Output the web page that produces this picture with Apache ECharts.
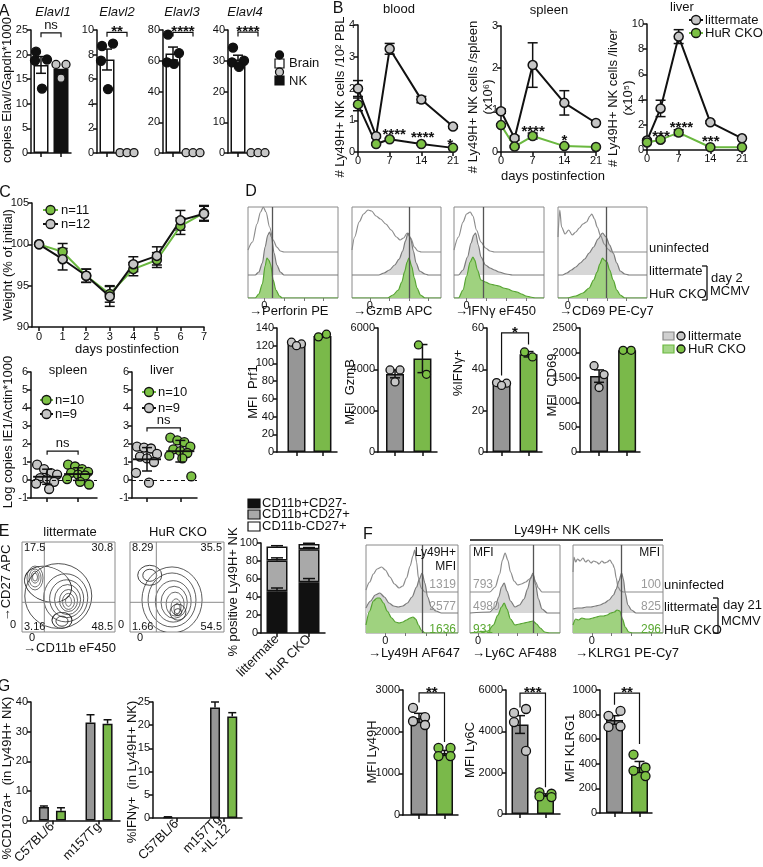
<!DOCTYPE html>
<html>
<head>
<meta charset="utf-8">
<title>Figure</title>
<script src="https://cdn.jsdelivr.net/npm/echarts@6/dist/echarts.min.js"></script>
<style>
html,body{margin:0;padding:0;background:#ffffff;}
#chart{width:763px;height:867px;}
</style>
</head>
<body>
<div id="chart"></div>
<script>
// ===================== DATA =====================
// Panel A
const elavlGenes = ['Elavl1', 'Elavl2', 'Elavl3', 'Elavl4'];
const elavlYMax = [25, 10, 80, 40];
const elavlYStep = [5, 2, 20, 10];
const elavlBrainMean = [17.9, 7.6, 64.7, 30.4];
const elavlBrainSem = [1.7, 0.85, 4.2, 1.4];
const elavlBrainPts = [[20.6, 19.0, 18.8, 13.1], [8.7, 8.9, 7.5, 5.2], [77, 65, 59, 58], [34.3, 30.0, 29.5, 28.0]];
const elavlNkMean = [17.1, 0.03, 0.2, 0.1];
const elavlNkPts = [[18.0, 18.0, 15.2], [0.03, 0.03, 0.03], [0.2, 0.2, 0.2], [0.1, 0.1, 0.1]];
const elavlSig = ['ns', '**', '****', '****'];
const elavlSigY = [24.4, 9.8, 78.5, 39.3];

// Panel B
const bDaysBlood = [0, 4, 7, 14, 21];
const bDaysOrgan = [0, 3, 7, 14, 21];
const bloodLit = [2.0, 0.5, 3.25, 1.65, 0.8];
const bloodLitErr = [0.25, 0.05, 0.17, 0.1, 0.04];
const bloodCko = [1.5, 0.25, 0.4, 0.25, 0.13];
const bloodCkoErr = [0.2, 0.03, 0.03, 0.03, 0.02];
const spleenLit = [0.97, 0.33, 2.07, 1.17, 0.69];
const spleenLitErr = [0.05, 0.05, 0.53, 0.29, 0.03];
const spleenCko = [0.64, 0.13, 0.38, 0.14, 0.12];
const spleenCkoErr = [0.03, 0.02, 0.07, 0.02, 0.02];
const liverLit = [0.75, 3.3, 9.0, 2.2, 0.93];
const liverLitErr = [0.1, 0.65, 0.55, 0.1, 0.05];
const liverCko = [0.6, 0.82, 1.38, 0.22, 0.22];
const liverCkoErr = [0.05, 0.1, 0.23, 0.03, 0.03];
const bloodStars = [[8.0, 0.66], [14.3, 0.58], [20.4, 0.36]];
const bloodStarText = ['****', '****', '*'];
const spleenStars = [[7.1, 0.57], [14.0, 0.36]];
const spleenStarText = ['****', '*'];
const liverStars = [[3.1, 1.35], [7.6, 2.1], [14.1, 0.95]];
const liverStarText = ['***', '****', '***'];

// Panel C - weight
const weightDays = [0, 1, 2, 3, 4, 5, 6, 7];
const weightLit = [100, 98.2, 96.2, 93.7, 97.6, 98.6, 102.9, 103.7];
const weightLitErr = [0, 1.3, 0.8, 1.2, 0.9, 1.1, 1.2, 0.9];
const weightCko = [100, 99.1, 96.2, 94.0, 97.0, 98.1, 102.2, 103.8];
const weightCkoErr = [0, 1.0, 0.8, 1.0, 0.8, 0.9, 1.0, 0.9];
// Panel C - IE1 copies
const ie1SpleenLit = [0.85, 0.6, 0.38, 0.3, 0.1, 0.05, -0.1, -0.2, -0.5];
const ie1SpleenCko = [0.85, 0.75, 0.6, 0.45, 0.4, 0.3, 0.25, 0.05, -0.1, -0.25];
const ie1LiverLit = [1.85, 1.8, 1.75, 1.45, 1.3, 1.2, 1.0, 0.4, -0.15];
const ie1LiverCko = [2.35, 2.2, 2.1, 1.85, 1.7, 1.6, 1.5, 1.35, 1.2, 0.2];
const ie1MeanSd = { spleenLit: [0.18, 0.42], spleenCko: [0.33, 0.35], liverLit: [1.15, 0.65], liverCko: [1.6, 0.6] };
const ie1SigY = [1.6, 2.9];

// Panel D - histograms [x %, height]
const dHistLabels = ['Perforin PE', 'GzmB APC', 'IFNγ eF450', 'CD69 PE-Cy7'];
const dUninf = [
  [[0,2],[5,10],[10,28],[14,40],[17,45],[20,40],[24,25],[28,12],[32,5],[36,1],[40,0],[100,0]],
  [[0,2],[3,15],[8,30],[13,38],[18,42],[22,41],[27,36],[32,33],[38,28],[44,22],[50,15],[54,12],[58,14],[62,19],[66,14],[70,5],[74,1],[78,0],[100,0]],
  [[0,2],[5,15],[10,30],[14,38],[18,40],[21,36],[25,22],[30,10],[35,4],[40,1],[45,0],[100,0]],
  [[0,15],[2,42],[4,25],[8,18],[12,22],[16,17],[20,20],[24,24],[28,28],[32,30],[36,36],[38,38],[41,33],[44,25],[48,16],[52,8],[56,3],[60,0],[100,0]]
];
const dLit = [
  [[0,0],[8,0],[12,3],[16,12],[19,28],[22,40],[24,43],[26,38],[29,22],[32,10],[36,3],[40,0],[100,0]],
  [[0,0],[30,0],[36,2],[42,5],[48,10],[53,16],[57,24],[60,34],[63,42],[66,36],[69,24],[72,12],[76,4],[82,1],[86,0],[100,0]],
  [[0,0],[5,0],[10,5],[15,18],[19,32],[22,40],[24,42],[27,30],[30,18],[35,10],[40,7],[45,5],[50,3],[58,1],[65,0],[100,0]],
  [[0,0],[5,0],[10,2],[15,5],[20,8],[25,12],[30,16],[35,22],[40,28],[45,36],[50,42],[54,38],[58,30],[62,22],[66,12],[70,4],[75,1],[80,0],[100,0]]
];
const dCko = [
  [[0,0],[8,0],[12,4],[16,14],[19,32],[21,40],[23,38],[25,34],[28,18],[31,8],[35,2],[38,0],[100,0]],
  [[0,0],[40,0],[46,3],[52,8],[56,16],[59,26],[62,36],[64,40],[67,32],[70,20],[73,10],[77,3],[82,0],[100,0]],
  [[0,0],[5,0],[10,8],[14,22],[18,36],[21,41],[23,38],[26,28],[30,18],[35,16],[40,14],[45,13],[50,12],[55,10],[60,9],[65,7],[70,6],[75,4],[80,2],[85,1],[90,0],[100,0]],
  [[0,0],[10,0],[20,2],[28,5],[35,10],[40,18],[44,26],[47,34],[50,40],[52,38],[55,36],[58,28],[62,18],[66,8],[70,3],[75,0],[100,0]]
];
const dMfiLine = [27, 64, 32, 54];
const dZeroTick = [18, 20, 14, 11];
// Panel D - bars
const dBarNames = ['MFI  Prf1', 'MFI  GzmB', '%IFNγ+', 'MFI  CD69'];
const dYMax = [140, 6000, 60, 2500];
const dYStep = [20, 2000, 20, 500];
const dLitMean = [122, 3780, 33, 1530];
const dLitSem = [1.2, 190, 0.5, 125];
const dCkoMean = [131, 4520, 47.3, 2050];
const dCkoSem = [1.5, 680, 1.3, 5];
const dLitPts = [[124, 122, 120], [3970, 3970, 3390], [33.6, 33.3, 32.2], [1740, 1560, 1300]];
const dCkoPts = [[130, 133], [5180, 3760], [48.4, 46.0], [2050, 2050]];
const dSigIfn = [0, 1, 57.6, 37, 52];

// Panel E - contour ellipses [cx %, cy %, rx %, ry %, rotation deg]
const eContourLit = [
  [39,40,36,36,0],[28,53,26,19,-20],
  [14,60,8.6,13.3,0],[14,60,6.5,10,0],[14,61,4.3,6.7,0],[14,61,2.7,4.4,0],
  [47,38,23.7,26.7,0],[48,37,18.3,21,0],[49,36,14,16.7,0],[50,35,9.7,12.2,0],[50,34,6.5,8.9,0],[50,34,3.2,5.6,0],
  [43,13,10.8,8.9,0],[43,12,6.5,5.6,0]
];
const eContourCko = [
  [44.7,35.6,32,36.7,0],[44.7,35.6,25.5,30,0],[46,34,19,23,0],[47,33,14,17.8,0],[48,31,9.6,13.3,0],[49,28,5.3,8.9,0],[50,26,3.2,5.6,0],
  [21,63,12.8,11.1,0],[21,63,7.4,6.7,0],
  [51,22,8.5,8.9,0],[51,22,4,4,0]
];
const eGateLit = [24, 33];
const eGateCko = [28, 33];
const eQuadLit = ['17.5', '30.8', '3.16', '48.5'];
const eQuadCko = ['8.29', '35.5', '1.66', '54.5'];
const eGroups = ['littermate', 'HuR CKO'];
const eCd27neg = [46.5, 56.5];
const eCd27negSem = [3.5, 4.0];
const eDp = [34.0, 36.5];
const eDpSem = [3.0, 2.0];
const eCd11bneg = [15.5, 6.0];
const eCd11bnegSem = [1.0, 0.7];
const eLegend = ['CD11b+CD27-', 'CD11b+CD27+', 'CD11b-CD27+'];

// Panel F - histograms
const fHistLabels = ['Ly49H AF647', 'Ly6C AF488', 'KLRG1 PE-Cy7'];
const fUninf = [
  [[0,2],[4,10],[8,18],[12,23],[17,25],[21,22],[26,15],[31,8],[36,4],[40,6],[44,14],[48,26],[51,36],[53,42],[55,30],[57,14],[60,4],[64,0],[100,0]],
  [[0,0],[22,0],[28,5],[33,18],[36,32],[39,39],[42,32],[45,20],[49,11],[53,7],[57,8],[62,10],[66,13],[70,17],[73,10],[76,4],[80,0],[100,0]],
  [[0,20],[1,35],[3,30],[5,33],[8,31],[11,34],[14,30],[17,32],[20,29],[23,31],[26,30],[29,28],[32,31],[35,29],[38,30],[41,32],[44,28],[46,24],[48,14],[50,5],[53,1],[56,0],[100,0]]
];
const fLit = [
  [[0,5],[5,12],[10,18],[15,20],[20,16],[25,10],[30,7],[35,6],[40,7],[45,10],[50,16],[55,26],[58,34],[61,40],[64,30],[67,16],[71,6],[76,2],[82,0],[100,0]],
  [[0,0],[22,1],[28,6],[32,16],[35,26],[38,30],[41,22],[45,12],[50,6],[55,8],[60,14],[64,24],[67,34],[70,40],[73,28],[76,14],[80,4],[86,0],[100,0]],
  [[0,4],[5,5],[10,5],[15,6],[20,6],[25,7],[30,8],[35,10],[40,13],[45,18],[48,24],[51,32],[54,40],[56,34],[58,20],[61,8],[65,3],[70,0],[100,0]]
];
const fCko = [
  [[0,8],[4,22],[8,32],[12,35],[15,35],[19,30],[23,22],[28,15],[32,11],[36,10],[40,11],[44,13],[48,15],[51,16],[54,14],[57,8],[60,3],[64,0],[100,0]],
  [[0,0],[20,2],[26,8],[31,18],[35,26],[38,30],[41,24],[45,14],[50,8],[55,9],[60,10],[65,11],[70,12],[74,9],[78,5],[83,1],[88,0],[100,0]],
  [[0,8],[3,14],[6,13],[10,15],[14,14],[18,14],[22,15],[26,16],[30,17],[34,17],[38,18],[42,20],[46,21],[49,23],[52,22],[55,14],[58,6],[62,1],[66,0],[100,0]]
];
const fMfiLine = [61, 70, 54];
const fZeroTick = [21, 9, 21];
const fMfiUninf = ['1319', '793', '100'];
const fMfiLit = ['2577', '4980', '825'];
const fMfiCko = ['1636', '931', '296'];
// Panel F - bars
const fBarNames = ['MFI Ly49H', 'MFI Ly6C', 'MFI KLRG1'];
const fYMax = [3000, 6000, 1000];
const fYStep = [1000, 2000, 200];
const fLitMean = [2330, 4330, 756];
const fLitSem = [110, 430, 35];
const fCkoMean = [1490, 920, 374];
const fCkoSem = [60, 55, 45];
const fLitPts = [[2570, 2350, 2250, 2160], [4890, 5080, 4450, 3050], [790, 830, 700, 705]];
const fCkoPts = [[1610, 1610, 1415, 1415], [1050, 980, 850, 820], [475, 370, 345, 300]];
const fSig = ['**', '***', '**'];
const fSigPos = [[0, 1, 2930, 2700, 1750], [0, 1, 5850, 5150, 1300], [0, 1, 975, 880, 560]];

// Panel G
const gCats1 = ['C57BL/6', 'm157Tg'];
const gCats2 = ['C57BL/6', 'm157Tg\n+IL-12'];
const gCd107Lit = [4.6, 33.1];
const gCd107LitSem = [0.3, 2.6];
const gCd107Cko = [3.3, 32.7];
const gCd107CkoSem = [1.0, 1.3];
const gIfnLit = [0.2, 23.8];
const gIfnLitSem = [0.05, 1.2];
const gIfnCko = [0, 21.9];
const gIfnCkoSem = [0, 0.8];

// ===================== STYLE / HELPERS =====================
const FONT = '"Liberation Sans", Arial, Helvetica, sans-serif';
const AX = { color: '#111', width: 1.5 };
const GREY_PT = '#c6c6c6', GREEN_PT = '#7cc144', GREEN_LINE = '#6ab83f';
const GREY_BAR = '#969696', GREEN_BAR = '#7ab94a';
const JIT = { a4: [-5, 6, -6, 1], d3: [-5, 5, 0], d2: [-4, 4], f4: [-6, 6, -6, 6], w: [-10, -3, 4, 10, -7, 0, 7, -11, 2, 11] };
const plainNum = function (v) { return String(v); };

const grids = [], xAxes = [], yAxes = [], series = [], graphics = [];
function addGrid(rect, xa, ya) {
  const i = grids.length;
  grids.push(Object.assign({ containLabel: false }, rect));
  xa.gridIndex = i; ya.gridIndex = i;
  xAxes.push(xa); yAxes.push(ya);
  return i;
}
function xVal(min, max, ticks, labels, o) {
  o = o || {};
  const has = ticks && ticks.length > 0;
  return {
    type: 'value', min: min, max: max, splitLine: { show: false },
    axisLine: { show: o.line !== false, onZero: false, lineStyle: AX },
    axisTick: { show: has, customValues: ticks, length: o.tickLen || 4, lineStyle: o.tickStyle || AX },
    axisLabel: {
      show: !!labels && has, customValues: ticks, rotate: o.rotate || 0, fontSize: o.fontSize || 11, color: '#111',
      margin: o.margin != null ? o.margin : 3, fontFamily: FONT, lineHeight: 13,
      formatter: function (v) { if (!labels) return ''; for (let i = 0; i < ticks.length; i++) { if (Math.abs(ticks[i] - v) < 1e-6) return labels[i]; } return ''; }
    }
  };
}
function xInt(min, max, interval) {
  return { type: 'value', min: min, max: max, interval: interval, splitLine: { show: false },
    axisLine: { show: true, onZero: false, lineStyle: AX }, axisTick: { show: true, length: 4, lineStyle: AX },
    axisLabel: { fontSize: 11, color: '#111', margin: 3, fontFamily: FONT, formatter: plainNum } };
}
function yVal(min, max, interval, o) {
  o = o || {};
  return { type: 'value', min: min, max: max, interval: interval, splitLine: { show: false },
    axisLine: { show: o.line !== false, onZero: false, lineStyle: AX },
    axisTick: { show: o.ticks !== false, length: 4, lineStyle: AX },
    axisLabel: { show: o.labels !== false, fontSize: 11, color: '#111', margin: 3, fontFamily: FONT, formatter: plainNum } };
}
function errSer(gi, items, o) {
  o = Object.assign({ cap: 4, lw: 1.5, down: true, mean: 0, color: '#111', z: 3 }, o || {});
  return {
    type: 'custom', xAxisIndex: gi, yAxisIndex: gi, silent: true, z: o.z, data: items,
    encode: { x: 0, y: [1, 2] },
    renderItem: function (p, api) {
      const x = api.value(0), lo = api.value(1), hi = api.value(2);
      const a = api.coord([x, lo]), b = api.coord([x, hi]);
      const st = { stroke: o.color, lineWidth: o.lw };
      const ch = [{ type: 'line', shape: { x1: a[0], y1: a[1], x2: b[0], y2: b[1] }, style: st }];
      if (o.cap > 0) {
        ch.push({ type: 'line', shape: { x1: b[0] - o.cap, y1: b[1], x2: b[0] + o.cap, y2: b[1] }, style: st });
        if (o.down) ch.push({ type: 'line', shape: { x1: a[0] - o.cap, y1: a[1], x2: a[0] + o.cap, y2: a[1] }, style: st });
      }
      if (o.mean > 0) {
        const m = api.coord([x, api.value(3)]);
        ch.push({ type: 'line', shape: { x1: m[0] - o.mean, y1: m[1], x2: m[0] + o.mean, y2: m[1] }, style: { stroke: o.color, lineWidth: o.lw + 0.4 } });
      }
      return { type: 'group', children: ch };
    }
  };
}
function ptsSer(gi, x, vals, fill, size, offs) {
  return { type: 'scatter', xAxisIndex: gi, yAxisIndex: gi, symbol: 'circle', symbolSize: size, z: 4, silent: true,
    itemStyle: { color: fill, borderColor: '#111', borderWidth: 1.3, opacity: 1 },
    data: vals.map(function (v, i) { return { value: [x, v], symbolOffset: [offs[i % offs.length], 0] }; }) };
}
function bracketSer(gi, items, labels) {
  return {
    type: 'custom', xAxisIndex: gi, yAxisIndex: gi, silent: true, z: 5, data: items,
    encode: { x: [0, 1], y: [2, 3, 4] },
    renderItem: function (p, api) {
      const x1 = api.value(0), x2 = api.value(1), yt = api.value(2), yl = api.value(3), yr = api.value(4);
      const a = api.coord([x1, yl]), b = api.coord([x1, yt]), c = api.coord([x2, yt]), d = api.coord([x2, yr]);
      const lab = labels[p.dataIndex];
      const star = lab.indexOf('*') >= 0;
      return { type: 'group', children: [
        { type: 'polyline', shape: { points: [a, b, c, d] }, style: { stroke: '#111', lineWidth: 1.2, fill: 'none' } },
        { type: 'text', x: (b[0] + c[0]) / 2, y: b[1] + (star ? 7 : -1),
          style: { text: lab, textAlign: 'center', textVerticalAlign: 'bottom', align: 'center', verticalAlign: 'bottom', font: (star ? 'bold 15px ' : '13px ') + FONT, fill: '#111' } }
      ] };
    }
  };
}
function starSer(gi, items, labels) {
  return {
    type: 'custom', xAxisIndex: gi, yAxisIndex: gi, silent: true, z: 6, data: items,
    renderItem: function (p, api) {
      const c = api.coord([api.value(0), api.value(1)]);
      return { type: 'text', x: c[0], y: c[1] + 4,
        style: { text: labels[p.dataIndex], textAlign: 'center', textVerticalAlign: 'middle', align: 'center', verticalAlign: 'middle', font: 'bold 15px ' + FONT, fill: '#111' } };
    }
  };
}
function histSer(gi, pts, base, line, fill, mfi) {
  const s = { type: 'line', xAxisIndex: gi, yAxisIndex: gi, silent: true, symbol: 'none', smooth: 0.3, smoothMonotone: 'x',
    data: pts.map(function (p) { return [p[0], base + p[1]]; }), lineStyle: { color: line, width: 1.2 }, z: 2 };
  if (fill) s.areaStyle = { color: fill, opacity: 1, origin: base };
  if (mfi != null) s.markLine = { silent: true, symbol: 'none', label: { show: false }, lineStyle: { color: '#555', width: 1.3, type: 'solid' }, data: [{ xAxis: mfi }] };
  return s;
}
function ellSer(gi, ells) {
  return {
    type: 'custom', xAxisIndex: gi, yAxisIndex: gi, silent: true, clip: true, data: ells,
    renderItem: function (p, api) {
      const c = api.coord([api.value(0), api.value(1)]);
      const s = api.size([api.value(2), api.value(3)]);
      return { type: 'circle', x: c[0], y: c[1], rotation: (api.value(4) || 0) * Math.PI / 180, scaleX: s[0] / s[1],
        shape: { cx: 0, cy: 0, r: s[1] }, style: { fill: 'none', stroke: '#2a2a2a', lineWidth: 0.8, strokeNoScale: true } };
    }
  };
}
function T(x, y, text, o) {
  o = o || {};
  const size = o.size || 13;
  graphics.push({ type: 'text', x: x, y: y, rotation: o.rot || 0, z: 50, silent: true,
    style: { text: text, fill: o.color || '#111', font: (o.italic ? 'italic ' : '') + (o.bold ? 'bold ' : '') + size + 'px ' + FONT,
      textAlign: o.align || 'left', textVerticalAlign: o.va || 'middle', align: o.align || 'left', verticalAlign: o.va || 'middle',
      lineHeight: o.lh || Math.round(size * 1.15) } });
}
function RT(x, y, text, o) { T(x, y, text, Object.assign({ rot: Math.PI / 2, align: 'center', va: 'middle' }, o || {})); }
function L(x1, y1, x2, y2, c, w) { graphics.push({ type: 'line', silent: true, z: 50, shape: { x1: x1, y1: y1, x2: x2, y2: y2 }, style: { stroke: c || '#111', lineWidth: w || 1.5 } }); }
function R(x, y, w, h, fill, stroke) { graphics.push({ type: 'rect', silent: true, z: 50, shape: { x: x, y: y, width: w, height: h }, style: { fill: fill, stroke: stroke || '#111', lineWidth: 1.2 } }); }
function C(x, y, r, fill, stroke) { graphics.push({ type: 'circle', silent: true, z: 51, shape: { cx: x, cy: y, r: r }, style: { fill: fill, stroke: stroke || '#111', lineWidth: 1.3 } }); }
function barItem(x, v, color) { return { value: [x, v], itemStyle: { color: color, borderColor: '#111', borderWidth: 1.5 } }; }

// ===================== PANEL A =====================
const A_LEFT = [31, 97, 163, 228];
const A_TITLE_X = [53, 117, 182, 245];
elavlGenes.forEach(function (gene, k) {
  const gi = addGrid({ left: A_LEFT[k], top: 30, width: 40, height: 123 }, xVal(-0.5, 1.5, [0, 1], null), yVal(0, elavlYMax[k], elavlYStep[k]));
  series.push({ type: 'bar', xAxisIndex: gi, yAxisIndex: gi, barWidth: 15, silent: true,
    data: [barItem(0, elavlBrainMean[k], '#ffffff'), barItem(1, elavlNkMean[k], '#111111')] });
  series.push(errSer(gi, [[0, elavlBrainMean[k] - elavlBrainSem[k], elavlBrainMean[k] + elavlBrainSem[k]]], { cap: 5 }));
  series.push(ptsSer(gi, 0, elavlBrainPts[k], '#111', 9, JIT.a4));
  series.push(ptsSer(gi, 1, elavlNkPts[k], GREY_PT, 8, k === 0 ? [-5, 5, 0] : [-7, 0, 7]));
  const y = elavlSigY[k], leg = elavlYMax[k] * 0.035;
  series.push(bracketSer(gi, [[0, 1, y, y - leg, y - leg]], [elavlSig[k]]));
  T(A_TITLE_X[k], 12, gene, { italic: true, align: 'center' });
});
T(4, 12, 'A', { size: 16, align: 'center' });
RT(7, 90, 'copies Elavl/Gapdh*1000');
R(275, 59, 9, 9, '#ffffff'); C(279.5, 55, 4, '#111'); T(289, 63, 'Brain');
R(275, 76, 9, 9, '#111111'); C(279.5, 72, 4, GREY_PT); T(289, 81, 'NK');

// ===================== PANEL B =====================
const bPlots = [
  { rect: { left: 358, top: 25, width: 95, height: 127 }, ymax: 4, step: 1, days: bDaysBlood, lit: bloodLit, litE: bloodLitErr, cko: bloodCko, ckoE: bloodCkoErr, ckoLine: '#111', stars: bloodStars, starText: bloodStarText },
  { rect: { left: 501, top: 26, width: 95, height: 126 }, ymax: 3, step: 1, days: bDaysOrgan, lit: spleenLit, litE: spleenLitErr, cko: spleenCko, ckoE: spleenCkoErr, ckoLine: GREEN_LINE, stars: spleenStars, starText: spleenStarText },
  { rect: { left: 647, top: 24, width: 95, height: 126 }, ymax: 10, step: 2, days: bDaysOrgan, lit: liverLit, litE: liverLitErr, cko: liverCko, ckoE: liverCkoErr, ckoLine: GREEN_LINE, stars: liverStars, starText: liverStarText }
];
bPlots.forEach(function (bp) {
  const gi = addGrid(bp.rect, xInt(0, 21, 7), yVal(0, bp.ymax, bp.step));
  const errs = [];
  bp.days.forEach(function (d, i) {
    errs.push([d, bp.lit[i] - bp.litE[i], bp.lit[i] + bp.litE[i]]);
    errs.push([d, bp.cko[i] - bp.ckoE[i], bp.cko[i] + bp.ckoE[i]]);
  });
  series.push(errSer(gi, errs, { cap: 5 }));
  series.push({ type: 'line', xAxisIndex: gi, yAxisIndex: gi, silent: true, z: 3, symbol: 'circle', symbolSize: 9,
    data: bp.days.map(function (d, i) { return [d, bp.lit[i]]; }),
    lineStyle: { color: '#111', width: 2 }, itemStyle: { color: GREY_PT, borderColor: '#111', borderWidth: 1.5 } });
  series.push({ type: 'line', xAxisIndex: gi, yAxisIndex: gi, silent: true, z: 3, symbol: 'circle', symbolSize: 9,
    data: bp.days.map(function (d, i) { return [d, bp.cko[i]]; }),
    lineStyle: { color: bp.ckoLine, width: 2 }, itemStyle: { color: GREEN_PT, borderColor: '#1a1a1a', borderWidth: 1.5 } });
  series.push(starSer(gi, bp.stars, bp.starText));
});
T(338, 9, 'B', { size: 16, align: 'center' });
T(399, 9, 'blood', { align: 'center' });
T(549, 10, 'spleen', { align: 'center' });
T(682, 7, 'liver', { align: 'center' });
RT(340, 97, '# Ly49H+ NK cells /10² PBL');
RT(481, 97, '# Ly49H+ NK cells /spleen\n(x10⁶)', { lh: 15 });
RT(621, 98, '# Ly49H+ NK cells /liver\n(x10⁵)', { lh: 15 });
T(553, 176, 'days postinfection', { align: 'center' });
L(689, 20, 703, 20, '#111', 2); C(696, 20, 4.5, GREY_PT); T(705, 20, 'littermate');
L(689, 33, 703, 33, GREEN_LINE, 2); C(696, 33, 4.5, GREEN_PT); T(705, 33, 'HuR CKO');

// ===================== PANEL C =====================
(function () {
  const gi = addGrid({ left: 32, top: 203, width: 172, height: 124 }, xVal(-0.3, 7, weightDays, weightDays.map(String)), yVal(90, 105, 5));
  const errs = [];
  weightDays.forEach(function (d, i) {
    if (weightCkoErr[i] > 0) errs.push([d, weightCko[i] - weightCkoErr[i], weightCko[i] + weightCkoErr[i]]);
    if (weightLitErr[i] > 0) errs.push([d, weightLit[i] - weightLitErr[i], weightLit[i] + weightLitErr[i]]);
  });
  series.push(errSer(gi, errs, { cap: 5 }));
  series.push({ type: 'line', xAxisIndex: gi, yAxisIndex: gi, silent: true, z: 3, symbol: 'circle', symbolSize: 9,
    data: weightDays.map(function (d, i) { return [d, weightCko[i]]; }),
    lineStyle: { color: GREEN_LINE, width: 2 }, itemStyle: { color: GREEN_PT, borderColor: '#1a1a1a', borderWidth: 1.5 } });
  series.push({ type: 'line', xAxisIndex: gi, yAxisIndex: gi, silent: true, z: 3, symbol: 'circle', symbolSize: 9,
    data: weightDays.map(function (d, i) { return [d, weightLit[i]]; }),
    lineStyle: { color: '#111', width: 2 }, itemStyle: { color: GREY_PT, borderColor: '#111', borderWidth: 1.5 } });
})();
T(5, 193, 'C', { size: 16, align: 'center' });
RT(8, 265, 'Weight (% of initial)');
T(127, 349, 'days postinfection', { align: 'center' });
L(43, 210, 58, 210, GREEN_LINE, 2); C(50.5, 210, 4.5, GREEN_PT); T(61, 210, 'n=11');
L(43, 224, 58, 224, '#111', 2); C(50.5, 224, 4.5, GREY_PT); T(61, 224, 'n=12');

function ie1Panel(rect, xmin, xmax, lit, cko, litMS, ckoMS, sigY) {
  const gi = addGrid(rect, xVal(xmin, xmax, [0, 1], null), yVal(-1, 6, 1));
  const s1 = ptsSer(gi, 0, lit, GREY_PT, 9, JIT.w);
  s1.markLine = { silent: true, symbol: 'none', label: { show: false }, lineStyle: { color: '#111', width: 1.2, type: [4, 3] }, data: [{ yAxis: 0 }] };
  series.push(s1);
  series.push(ptsSer(gi, 1, cko, GREEN_PT, 9, JIT.w));
  series.push(errSer(gi, [[0, litMS[0] - litMS[1], litMS[0] + litMS[1], litMS[0]], [1, ckoMS[0] - ckoMS[1], ckoMS[0] + ckoMS[1], ckoMS[0]]], { cap: 5, mean: 14, z: 6 }));
  series.push(bracketSer(gi, [[0, 1, sigY, sigY - 0.2, sigY - 0.2]], ['ns']));
}
ie1Panel({ left: 31, top: 372, width: 66, height: 126 }, -0.52, 1.61, ie1SpleenLit, ie1SpleenCko, ie1MeanSd.spleenLit, ie1MeanSd.spleenCko, ie1SigY[0]);
ie1Panel({ left: 132, top: 372, width: 65, height: 126 }, -0.45, 1.5, ie1LiverLit, ie1LiverCko, ie1MeanSd.liverLit, ie1MeanSd.liverCko, ie1SigY[1]);
T(68, 370, 'spleen', { align: 'center' });
T(162, 370, 'liver', { align: 'center' });
L(40, 400, 53, 400, GREEN_LINE, 2); C(46.5, 400, 4.5, GREEN_PT); T(55, 400, 'n=10');
L(40, 414, 53, 414, '#111', 2); C(46.5, 414, 4.5, GREY_PT); T(55, 414, 'n=9');
L(142, 392, 156, 392, GREEN_LINE, 2); C(149, 392, 4.5, GREEN_PT); T(158, 392, 'n=10');
L(142, 408, 156, 408, '#111', 2); C(149, 408, 4.5, GREY_PT); T(158, 408, 'n=9');
RT(8, 432, 'Log copies IE1/Actin*1000');

// ===================== PANEL D =====================
const D_HIST = [{ left: 248, width: 90 }, { left: 352, width: 89 }, { left: 454, width: 90 }, { left: 558, width: 89 }];
const D_H = 91, D_ROW = 23;
D_HIST.forEach(function (b, k) {
  const z = dZeroTick[k];
  const ticks = [z, z + 22, z + 44, z + 66].filter(function (t) { return t < 98; });
  const labs = ticks.map(function (t, i) { return i === 0 ? '0' : ''; });
  const gi = addGrid({ left: b.left, top: 207, width: b.width, height: D_H, show: true, borderColor: '#8a8a8a', borderWidth: 1 },
    xVal(0, 100, ticks, labs, { line: false, tickLen: 3, tickStyle: { color: '#777', width: 1 }, margin: 1 }),
    yVal(0, D_H, D_H, { line: false, ticks: false, labels: false }));
  series.push(histSer(gi, dUninf[k], 2 * D_ROW, '#8c8c8c', null, null));
  series.push(histSer(gi, dLit[k], D_ROW, '#7a7a7a', '#d6d6d6', null));
  series.push(histSer(gi, dCko[k], 0, '#56a332', '#9fd27f', dMfiLine[k]));
  T(b.left + 1, 311, '→' + dHistLabels[k]);
});
const D_BAR = [{ left: 277, width: 60, min: -0.75, max: 1.56 }, { left: 378, width: 59, min: -0.62, max: 1.53 }, { left: 487, width: 55, min: -0.54, max: 1.5 }, { left: 580, width: 60, min: -0.68, max: 1.46 }];
D_BAR.forEach(function (b, k) {
  const gi = addGrid({ left: b.left, top: 328, width: b.width, height: 124 }, xVal(b.min, b.max, [0, 1], null), yVal(0, dYMax[k], dYStep[k]));
  series.push({ type: 'bar', xAxisIndex: gi, yAxisIndex: gi, barWidth: 18, silent: true,
    data: [barItem(0, dLitMean[k], GREY_BAR), barItem(1, dCkoMean[k], GREEN_BAR)] });
  series.push(errSer(gi, [[0, dLitMean[k] - dLitSem[k], dLitMean[k] + dLitSem[k]], [1, dCkoMean[k] - dCkoSem[k], dCkoMean[k] + dCkoSem[k]]], { cap: 5 }));
  series.push(ptsSer(gi, 0, dLitPts[k], GREY_PT, 8, JIT.d3));
  series.push(ptsSer(gi, 1, dCkoPts[k], GREEN_PT, 8, JIT.d2));
  if (k === 2) series.push(bracketSer(gi, [dSigIfn], ['*']));
});
T(251, 192, 'D', { size: 16, align: 'center' });
RT(253, 392, dBarNames[0]);
RT(350, 392, dBarNames[1]);
RT(458, 373, dBarNames[2]);
RT(552, 385, dBarNames[3]);
T(649, 248, 'uninfected'); T(649, 271, 'littermate'); T(649, 294, 'HuR CKO');
L(702, 266, 707, 266, '#111', 1.3); L(707, 266, 707, 300, '#111', 1.3); L(702, 300, 707, 300, '#111', 1.3);
T(711, 278, 'day 2'); T(710, 291, 'MCMV');
R(663, 332, 11, 8, '#d0d0d0', '#888'); C(681, 336, 4, GREY_PT); T(688, 336, 'littermate');
R(663, 345, 11, 8, '#a6d68a', '#6ab83f'); C(681, 349, 4, GREEN_PT); T(688, 349, 'HuR CKO');

// ===================== PANEL E =====================
function contourPanel(left, width, ells, gate, quad) {
  const gi = addGrid({ left: left, top: 542, width: width, height: 90, show: true, borderColor: '#8a8a8a', borderWidth: 1 },
    xVal(0, 100, [], null, { line: false }), yVal(0, 100, 100, { line: false, ticks: false, labels: false }));
  series.push(ellSer(gi, ells));
  const gs = { type: 'line', xAxisIndex: gi, yAxisIndex: gi, silent: true, symbol: 'none', lineStyle: { color: '#8a8a8a', width: 1 } };
  series.push(Object.assign({}, gs, { data: [[gate[0], 0], [gate[0], 100]] }));
  series.push(Object.assign({}, gs, { data: [[0, gate[1]], [100, gate[1]]] }));
  T(left + 2, 548, quad[0], { size: 11 });
  T(left + width - 2, 548, quad[1], { size: 11, align: 'right' });
  T(left + 2, 627, quad[2], { size: 11 });
  T(left + width - 2, 627, quad[3], { size: 11, align: 'right' });
  T(left + 10, 638, '0', { size: 11, align: 'center' });
  T(left - 9, 625, '0', { size: 11, align: 'center' });
}
contourPanel(22, 93, eContourLit, eGateLit, eQuadLit);
contourPanel(130, 94, eContourCko, eGateCko, eQuadCko);
T(4, 532, 'E', { size: 16, align: 'center' });
T(70, 532, 'littermate', { align: 'center' });
T(178, 532, 'HuR CKO', { align: 'center' });
RT(6, 583, '→CD27 APC');
T(23, 648, '→CD11b eF450');
(function () {
  const xa = { type: 'category', data: eGroups, boundaryGap: true,
    axisLine: { show: true, onZero: false, lineStyle: AX },
    axisTick: { show: true, alignWithLabel: true, length: 4, lineStyle: AX },
    axisLabel: { interval: 0, rotate: 45, fontSize: 13, color: '#111', margin: 4, fontFamily: FONT } };
  const gi = addGrid({ left: 261, top: 543, width: 64, height: 90 }, xa, yVal(0, 100, 20));
  const defs = [[eCd27neg, eCd27negSem, '#111111'], [eDp, eDpSem, '#a9a9a9'], [eCd11bneg, eCd11bnegSem, '#ffffff']];
  const cum = [0, 0];
  const errs = [];
  defs.forEach(function (d) {
    series.push({ type: 'bar', stack: 'ly', xAxisIndex: gi, yAxisIndex: gi, barWidth: 21, silent: true,
      itemStyle: { color: d[2], borderColor: '#111', borderWidth: 1.5 }, data: d[0].slice() });
    d[0].forEach(function (v, i) { cum[i] += v; errs.push([i, cum[i], cum[i] + d[1][i]]); });
  });
  series.push(errSer(gi, errs, { cap: 6, down: false, z: 6 }));
})();
R(248, 499, 12, 9, '#111111'); T(262, 503, eLegend[0]);
R(248, 510, 12, 9, '#a9a9a9'); T(262, 514, eLegend[1]);
R(248, 522, 12, 9, '#ffffff'); T(262, 526, eLegend[2]);
RT(233, 592, '% positive Ly49H+ NK');

// ===================== PANEL F =====================
const F_HIST = [{ left: 366, width: 92 }, { left: 470, width: 90 }, { left: 573, width: 90 }];
const F_H = 88;
const F_BASE = [0, 20, 41];
F_HIST.forEach(function (b, k) {
  const z = fZeroTick[k];
  const ticks = [z, z + 22, z + 44, z + 66].filter(function (t) { return t < 98; });
  const labs = ticks.map(function (t, i) { return i === 0 ? '0' : ''; });
  const gi = addGrid({ left: b.left, top: 545, width: b.width, height: F_H, show: true, borderColor: '#8a8a8a', borderWidth: 1 },
    xVal(0, 100, ticks, labs, { line: false, tickLen: 3, tickStyle: { color: '#777', width: 1 }, margin: 1 }),
    yVal(0, F_H, F_H, { line: false, ticks: false, labels: false }));
  series.push(histSer(gi, fUninf[k], F_BASE[2], '#8c8c8c', null, null));
  series.push(histSer(gi, fLit[k], F_BASE[1], '#7a7a7a', '#d6d6d6', null));
  series.push(histSer(gi, fCko[k], F_BASE[0], '#56a332', '#9fd27f', fMfiLine[k]));
  T(b.left + 2, 653, '→' + fHistLabels[k]);
  const right = k !== 1;
  const tx = right ? b.left + b.width - 2 : b.left + 3;
  const al = right ? 'right' : 'left';
  T(tx, 585, fMfiUninf[k], { color: '#9a9a9a', align: al, size: 12 });
  T(tx, 607, fMfiLit[k], { color: '#9a9a9a', align: al, size: 12 });
  T(tx, 630, fMfiCko[k], { color: '#5aa832', align: al, size: 12 });
});
T(456, 553, 'Ly49H+', { align: 'right', size: 12 });
T(456, 567, 'MFI', { align: 'right', size: 12 });
T(473, 553, 'MFI', { size: 12 });
T(660, 553, 'MFI', { align: 'right', size: 12 });
T(368, 535, 'F', { size: 16, align: 'center' });
T(562, 530, 'Ly49H+ NK cells', { align: 'center' });
L(470, 540, 663, 540, '#111', 1.5);
T(664, 585, 'uninfected'); T(664, 607, 'littermate'); T(664, 630, 'HuR CKO');
L(713, 598, 718, 598, '#111', 1.3); L(718, 598, 718, 633, '#111', 1.3); L(713, 633, 718, 633, '#111', 1.3);
T(723, 605, 'day 21'); T(721, 621, 'MCMV');
const F_BAR = [{ left: 403, width: 55, min: -0.63, max: 1.53, top: 690, h: 125 }, { left: 506, width: 54, min: -0.55, max: 1.57, top: 690, h: 124 }, { left: 600, width: 52, min: -0.58, max: 1.5, top: 690, h: 123 }];
F_BAR.forEach(function (b, k) {
  const gi = addGrid({ left: b.left, top: b.top, width: b.width, height: b.h }, xVal(b.min, b.max, [0, 1], null), yVal(0, fYMax[k], fYStep[k]));
  series.push({ type: 'bar', xAxisIndex: gi, yAxisIndex: gi, barWidth: 17, silent: true,
    data: [barItem(0, fLitMean[k], GREY_BAR), barItem(1, fCkoMean[k], GREEN_BAR)] });
  series.push(errSer(gi, [[0, fLitMean[k] - fLitSem[k], fLitMean[k] + fLitSem[k]], [1, fCkoMean[k] - fCkoSem[k], fCkoMean[k] + fCkoSem[k]]], { cap: 5 }));
  series.push(ptsSer(gi, 0, fLitPts[k], GREY_PT, 9, JIT.f4));
  series.push(ptsSer(gi, 1, fCkoPts[k], GREEN_PT, 9, JIT.f4));
  series.push(bracketSer(gi, [fSigPos[k]], [fSig[k]]));
});
RT(372, 752, fBarNames[0]);
RT(470, 750, fBarNames[1]);
RT(570, 748, fBarNames[2]);

// ===================== PANEL G =====================
const G_OFF = 0.183;
function gPanel(rect, xmin, xmax, cats, lit, litSem, cko, ckoSem, ymax, step) {
  const gi = addGrid(rect, xVal(xmin, xmax, [0, 1], cats, { rotate: 45, fontSize: 13, margin: 4 }), yVal(0, ymax, step));
  const data = [], errs = [];
  cats.forEach(function (c, i) {
    data.push(barItem(i - G_OFF, lit[i], GREY_BAR));
    if (cko[i] > 0) data.push(barItem(i + G_OFF, cko[i], GREEN_BAR));
    if (litSem[i] > 0) errs.push([i - G_OFF, lit[i], lit[i] + litSem[i]]);
    if (ckoSem[i] > 0) errs.push([i + G_OFF, cko[i], cko[i] + ckoSem[i]]);
  });
  series.push({ type: 'bar', xAxisIndex: gi, yAxisIndex: gi, barWidth: 10, silent: true, data: data });
  series.push(errSer(gi, errs, { cap: 4, down: false }));
}
gPanel({ left: 31, top: 702, width: 89, height: 121 }, -0.46, 1.45, gCats1, gCd107Lit, gCd107LitSem, gCd107Cko, gCd107CkoSem, 40, 10);
gPanel({ left: 153, top: 702, width: 89, height: 121 }, -0.5, 1.39, gCats2, gIfnLit, gIfnLitSem, gIfnCko, gIfnCkoSem, 25, 5);
T(4, 687, 'G', { size: 16, align: 'center' });
RT(7, 778, '%CD107a+  (in Ly49H+ NK)');
RT(132, 772, '%IFNγ+  (in Ly49H+ NK)');

// ===================== RENDER =====================
const chart = echarts.init(document.getElementById('chart'), null, { renderer: 'canvas', width: 763, height: 867 });
chart.setOption({
  animation: false,
  backgroundColor: '#ffffff',
  textStyle: { fontFamily: FONT },
  grid: grids, xAxis: xAxes, yAxis: yAxes, series: series,
  graphic: { elements: graphics }
});
</script>
</body>
</html>
